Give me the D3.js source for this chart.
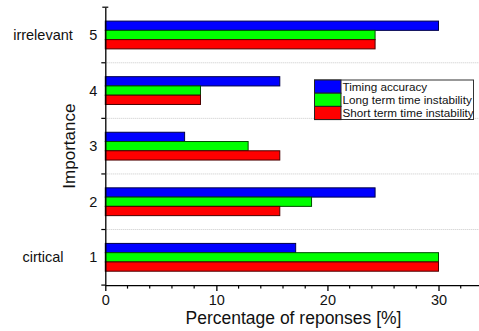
<!DOCTYPE html>
<html>
<head>
<meta charset="utf-8">
<script src="https://cdn.jsdelivr.net/npm/d3@7"></script>
<style>
  html, body { margin: 0; padding: 0; background: #fff; }
  svg { display: block; font-family: Arial, "Liberation Sans", sans-serif; }
</style>
</head>
<body>
<svg id="chart" width="479" height="331"></svg>
<script>
// Survey: importance rating (1 = critical ... 5 = irrelevant), share of 70 responses
const importance = [1, 2, 3, 4, 5];
const seriesNames = ["Timing accuracy", "Long term time instability", "Short term time instability"];
const timingAccuracy = [17.14, 24.29, 7.14, 15.71, 30.0];
const longTermInstability = [30.0, 18.57, 12.86, 8.57, 24.29];
const shortTermInstability = [30.0, 15.71, 15.71, 8.57, 24.29];
const xTicks = [0, 10, 20, 30];
const sideLabels = [{ level: 5, text: "irrelevant" }, { level: 1, text: "cirtical" }];

const fills = ["#0000ff", "#00ff00", "#ff0000"];
const strokes = ["#00004a", "#004a00", "#4a0000"];
const seriesValues = [timingAccuracy, longTermInstability, shortTermInstability];

const svg = d3.select("#chart");
const plotLeft = 105.3, plotRight = 479.6, plotTop = 7.2, plotBottom = 285.1;

const x = d3.scaleLinear().domain([0, 33.7]).range([plotLeft, plotRight]);
const y = d3.scaleLinear().domain([0.5, 5.5]).range([plotBottom, plotTop]);
const bandPx = y(0) - y(1);
const inner = d3.scaleBand().domain(seriesNames).range([-bandPx * 0.25, bandPx * 0.25]);

// dotted separators between importance levels
const bounds = [1.5, 2.5, 3.5, 4.5];
svg.append("g").selectAll("line").data(bounds).join("line")
  .attr("x1", plotLeft).attr("x2", plotRight)
  .attr("y1", d => y(d)).attr("y2", d => y(d))
  .attr("stroke", "#c8c8c8").attr("stroke-width", 1)
  .attr("stroke-dasharray", "1,1");

// bars
const rows = [];
importance.forEach((lvl, i) => {
  seriesNames.forEach((s, j) => rows.push({ lvl, s, j, v: seriesValues[j][i] }));
});
svg.append("g").selectAll("rect").data(rows).join("rect")
  .attr("x", x(0))
  .attr("y", d => y(d.lvl) + inner(d.s))
  .attr("width", d => x(d.v) - x(0))
  .attr("height", inner.bandwidth())
  .attr("fill", d => fills[d.j])
  .attr("stroke", d => strokes[d.j])
  .attr("stroke-width", 1);

// x axis
const xAxis = d3.axisBottom(x).tickValues(xTicks).tickSize(6).tickSizeOuter(0).tickPadding(4);
const gx = svg.append("g").attr("transform", `translate(0,${plotBottom})`).call(xAxis);
gx.select(".domain").attr("stroke", "#000").attr("stroke-width", 1.3);
gx.selectAll(".tick line").attr("stroke", "#000").attr("stroke-width", 1.3);
gx.selectAll(".tick text").attr("font-size", 14.5).attr("fill", "#111")
  .attr("font-family", "Arial, 'Liberation Sans', sans-serif");
// minor ticks every 2 %
const minor = d3.range(2, 34, 2).filter(v => v % 10 !== 0);
svg.append("g").selectAll("line").data(minor).join("line")
  .attr("x1", d => x(d)).attr("x2", d => x(d))
  .attr("y1", plotBottom).attr("y2", plotBottom + 3.5)
  .attr("stroke", "#000").attr("stroke-width", 1.2);

// y axis
const yAxis = d3.axisLeft(y).tickValues(importance).tickSize(0).tickPadding(8).tickFormat(d3.format("d"));
const gy = svg.append("g").attr("transform", `translate(${plotLeft},0)`).call(yAxis);
gy.select(".domain").attr("stroke", "#000").attr("stroke-width", 1.3);
gy.selectAll(".tick text").attr("font-size", 14.5).attr("fill", "#111")
  .attr("font-family", "Arial, 'Liberation Sans', sans-serif");
svg.append("g").selectAll("line").data([0.5, ...bounds]).join("line")
  .attr("x1", plotLeft - 4).attr("x2", plotLeft)
  .attr("y1", d => y(d)).attr("y2", d => y(d))
  .attr("stroke", "#000").attr("stroke-width", 1.2);
svg.append("line")
  .attr("x1", plotLeft - 3).attr("x2", plotLeft + 3)
  .attr("y1", y(5.5)).attr("y2", y(5.5))
  .attr("stroke", "#000").attr("stroke-width", 1.2);

// side labels for the scale ends
svg.append("g").selectAll("text").data(sideLabels).join("text")
  .attr("x", 43).attr("y", d => y(d.level))
  .attr("dy", "0.35em")
  .attr("text-anchor", "middle")
  .attr("font-size", 14.5).attr("fill", "#111")
  .text(d => d.text);

// axis titles
svg.append("text")
  .attr("transform", `translate(74.5,${(plotTop + plotBottom) / 2}) rotate(-90)`)
  .attr("text-anchor", "middle")
  .attr("font-size", 17).attr("fill", "#111")
  .text("Importance");
svg.append("text")
  .attr("x", 293.5).attr("y", 324)
  .attr("text-anchor", "middle")
  .attr("font-size", 17.5).attr("fill", "#111")
  .text("Percentage of reponses [%]");

// legend
const lg = svg.append("g").attr("transform", "translate(314.5,80)");
lg.append("rect").attr("width", 159).attr("height", 39.5)
  .attr("fill", "#fff").attr("stroke", "#333").attr("stroke-width", 1);
const rowH = 13.2;
seriesNames.forEach((s, j) => {
  lg.append("rect").attr("x", 0).attr("y", j * rowH).attr("width", 26.5).attr("height", rowH)
    .attr("fill", fills[j]).attr("stroke", "#222").attr("stroke-width", 1);
  lg.append("text").attr("x", 28).attr("y", j * rowH + rowH / 2).attr("dy", "0.36em")
    .attr("font-size", 11.7).attr("fill", "#111").text(s);
});
</script>
</body>
</html>
